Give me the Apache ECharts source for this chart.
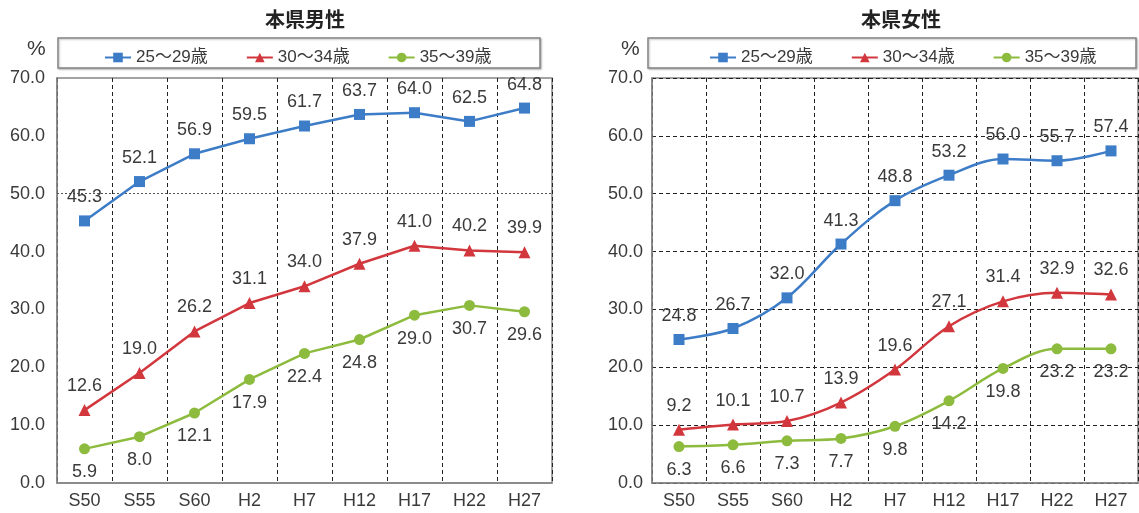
<!DOCTYPE html>
<html>
<head>
<meta charset="utf-8">
<script src="https://cdn.jsdelivr.net/npm/echarts@6/dist/echarts.min.js"></script>
<style>
  html, body { margin: 0; padding: 0; background: #fff; }
  #chart { width: 1139px; height: 513px; }
</style>
</head>
<body>
<div id="chart"></div>
<script>
// Survey years (Showa / Heisei)
const years = ['S50', 'S55', 'S60', 'H2', 'H7', 'H12', 'H17', 'H22', 'H27'];
const ageGroups = ['25～29歳', '30～34歳', '35～39歳'];

// Unmarried rate (%) by age group — men
const male25 = [45.3, 52.1, 56.9, 59.5, 61.7, 63.7, 64.0, 62.5, 64.8];
const male30 = [12.6, 19.0, 26.2, 31.1, 34.0, 37.9, 41.0, 40.2, 39.9];
const male35 = [5.9, 8.0, 12.1, 17.9, 22.4, 24.8, 29.0, 30.7, 29.6];

// Unmarried rate (%) by age group — women
const female25 = [24.8, 26.7, 32.0, 41.3, 48.8, 53.2, 56.0, 55.7, 57.4];
const female30 = [9.2, 10.1, 10.7, 13.9, 19.6, 27.1, 31.4, 32.9, 32.6];
const female35 = [6.3, 6.6, 7.3, 7.7, 9.8, 14.2, 19.8, 23.2, 23.2];

const titles = ['本県男性', '本県女性'];
const yMin = 0, yMax = 70, yStep = 10;

const FONT = "'Liberation Sans', 'Noto Sans CJK JP', sans-serif";
const TEXT = '#3a3a3a';
const FRAME = '#858585';
const colors = ['#3D7CC7', '#D2373D', '#8DBB3E'];
const symbols = ['rect', 'triangle', 'circle'];
const symbolSizes = [11, 12, 11];
const labelPos = ['top', 'top', 'bottom'];

const panels = [
  { data: [male25, male30, male35], smooth: false, grid: { left: 57, right: 587 }, titleX: 300, box: [58, 38, 482, 30], legendX: 99, pctX: 38 },
  { data: [female25, female30, female35], smooth: 0.35, grid: { left: 652, right: 1 }, titleX: 896, box: [648, 38, 488, 30], legendX: 704, pctX: 632 }
];

const chart = echarts.init(document.getElementById('chart'), null, { renderer: 'canvas' });

const option = {
  backgroundColor: '#ffffff',
  animation: false,
  title: panels.map((p, i) => ({
    text: titles[i],
    left: p.titleX,
    top: 4,
    textAlign: 'center',
    textStyle: { fontFamily: "'Noto Sans CJK JP', sans-serif", fontSize: 20, fontWeight: 'bold', color: '#222' }
  })),
  legend: panels.map((p) => ({
    data: ageGroups,
    left: p.legendX,
    top: 44,
    itemWidth: 26,
    itemHeight: 12,
    itemGap: 38,
    textStyle: { fontFamily: FONT, fontSize: 17, color: TEXT }
  })),
  graphic: panels.flatMap((p) => [
    {
      type: 'rect',
      shape: { x: p.box[0], y: p.box[1], width: p.box[2], height: p.box[3] },
      style: { fill: '#fff', stroke: FRAME, lineWidth: 1.5, shadowColor: 'rgba(0,0,0,0.25)', shadowOffsetX: 1, shadowOffsetY: 1, shadowBlur: 2 },
      z: -1
    },
    {
      type: 'text',
      left: p.pctX - 11,
      top: 39,
      style: { text: '%', font: '21px ' + FONT, fill: TEXT }
    }
  ]),
  grid: panels.map((p) => ({
    left: p.grid.left, right: p.grid.right, top: 78, bottom: 30,
    show: true, borderColor: FRAME, borderWidth: 1.5, backgroundColor: '#fff'
  })),
  xAxis: panels.map((p, i) => ({
    type: 'category',
    gridIndex: i,
    data: years,
    boundaryGap: true,
    axisLine: { lineStyle: { color: FRAME, width: 1.5 } },
    axisTick: { show: false },
    axisLabel: { fontFamily: FONT, fontSize: 18, color: TEXT, margin: 9 },
    splitLine: { show: true, lineStyle: { color: '#222', type: [4, 3], width: 1 } }
  })),
  yAxis: panels.map((p, i) => ({
    type: 'value',
    gridIndex: i,
    min: yMin, max: yMax, interval: yStep,
    axisLine: { show: true, lineStyle: { color: FRAME, width: 1.5 } },
    axisTick: { show: false },
    axisLabel: { fontFamily: FONT, fontSize: 18, color: TEXT, margin: i === 0 ? 12 : 9, formatter: (v) => v.toFixed(1) },
    splitLine: i === 0
      ? { show: false }
      : { show: true, lineStyle: { color: '#222', type: [4, 3], width: 1 } }
  })),
  series: panels.flatMap((p, pi) => p.data.map((values, si) => {
    const s = {
      name: ageGroups[si],
      type: 'line',
      xAxisIndex: pi,
      yAxisIndex: pi,
      data: values,
      smooth: p.smooth,
      color: colors[si],
      symbol: symbols[si],
      symbolSize: symbolSizes[si],
      lineStyle: { width: 2.5, color: colors[si] },
      itemStyle: { color: colors[si] },
      label: {
        show: true,
        position: labelPos[si],
        distance: 9,
        fontFamily: FONT,
        fontSize: 18,
        color: TEXT,
        formatter: (d) => d.value.toFixed(1)
      },
      z: 3 - si + 2
    };
    // single dotted reference line at 50% on the men's panel
    if (pi === 0 && si === 0) {
      s.markLine = {
        silent: true,
        symbol: 'none',
        label: { show: false },
        lineStyle: { color: '#555', type: [2, 2], width: 1 },
        data: [{ yAxis: 50 }],
        z: 1
      };
    }
    return s;
  }))
};

chart.setOption(option);
</script>
</body>
</html>
